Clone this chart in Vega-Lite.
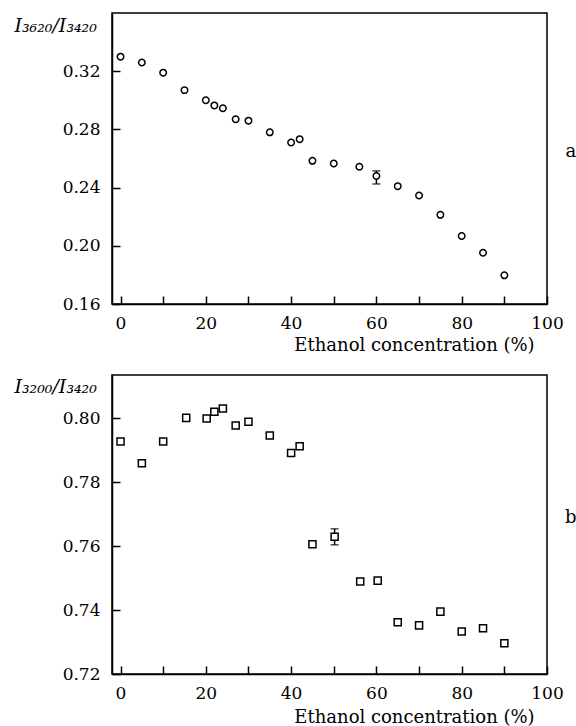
{
  "$schema": "https://vega.github.io/schema/vega-lite/v6.json",
  "autosize": {"type": "pad"},
  "padding": {"left": 13, "top": 12, "right": 0, "bottom": 0},
  "background": "white",
  "bounds": "flush",
  "spacing": 71,
  "config": {
    "font": "DejaVu Serif",
    "view": {"stroke": "black", "strokeWidth": 1.5},
    "axis": {
      "domainColor": "black", "domainWidth": 1.5,
      "tickColor": "black", "tickWidth": 1.5, "tickSize": -8,
      "labelColor": "black", "titleColor": "black",
      "labelFont": "DejaVu Serif",
      "titleFont": "DejaVu Serif",
      "labelFontSize": 17, "titleFontWeight": "normal", "grid": false
    },
    "text": {"font": "DejaVu Serif", "fontWeight": "normal"}
  },
  "vconcat": [
    {
      "width": 435,
      "height": 291,
      "data": {"values": [
        {"conc": 0, "ratio": 0.330},
        {"conc": 5, "ratio": 0.326},
        {"conc": 10, "ratio": 0.319},
        {"conc": 15, "ratio": 0.307},
        {"conc": 20, "ratio": 0.300},
        {"conc": 22, "ratio": 0.2965},
        {"conc": 24, "ratio": 0.2945},
        {"conc": 27, "ratio": 0.287},
        {"conc": 30, "ratio": 0.286},
        {"conc": 35, "ratio": 0.278},
        {"conc": 40, "ratio": 0.271},
        {"conc": 42, "ratio": 0.2733},
        {"conc": 45, "ratio": 0.2584},
        {"conc": 50, "ratio": 0.2566},
        {"conc": 56, "ratio": 0.2543},
        {"conc": 60, "ratio": 0.248, "lo": 0.2425, "hi": 0.2515},
        {"conc": 65, "ratio": 0.241},
        {"conc": 70, "ratio": 0.2346},
        {"conc": 75, "ratio": 0.2213},
        {"conc": 80, "ratio": 0.2067},
        {"conc": 85, "ratio": 0.1952},
        {"conc": 90, "ratio": 0.1797}
      ]},
      "encoding": {
        "x": {"field": "conc", "type": "quantitative",
              "scale": {"domain": [-2, 100], "nice": false, "zero": false},
              "axis": {"values": [0,10,20,30,40,50,60,70,80,90,100],
                       "labelExpr": "datum.value % 20 === 0 ? datum.label : ''",
                       "labelPadding": 19, "labelFlush": false,
                       "title": "Ethanol concentration (%)", "titleFontSize": 18,
                       "titleAnchor": "start", "titleAlign": "center", "titleX": 302, "titleY": 46,
                       "titleBaseline": "alphabetic"}},
        "y": {"field": "ratio", "type": "quantitative",
              "scale": {"domain": [0.16, 0.36], "nice": false, "zero": false},
              "axis": {"values": [0.16, 0.20, 0.24, 0.28, 0.32], "format": ".2f",
                       "labelPadding": 20, "labelFlush": false,
                       "title": "I₃₆₂₀/I₃₄₂₀", "titleFontSize": 19, "titleFontStyle": "italic",
                       "titleAngle": 0, "titleAlign": "left", "titleBaseline": "alphabetic",
                       "titleX": -98, "titleY": 18}}
      },
      "layer": [
        {"transform": [{"filter": "isValid(datum.lo)"}],
         "mark": {"type": "rule", "color": "black", "strokeWidth": 1.5},
         "encoding": {"y": {"field": "lo", "type": "quantitative"}, "y2": {"field": "hi"}}},
        {"transform": [{"filter": "isValid(datum.lo)"}],
         "mark": {"type": "tick", "orient": "horizontal", "color": "black", "size": 8, "thickness": 1.5},
         "encoding": {"y": {"field": "lo", "type": "quantitative"}}},
        {"transform": [{"filter": "isValid(datum.hi)"}],
         "mark": {"type": "tick", "orient": "horizontal", "color": "black", "size": 8, "thickness": 1.5},
         "encoding": {"y": {"field": "hi", "type": "quantitative"}}},
        {"mark": {"type": "point", "shape": "circle", "filled": true, "fill": "white", "stroke": "black", "strokeWidth": 1.5, "size": 42, "opacity": 1}},
        {"transform": [{"filter": "datum.conc == 0"}],
         "mark": {"type": "text", "fontSize": 18, "fontWeight": "normal", "align": "center", "baseline": "middle", "color": "black"},
         "encoding": {"x": {"datum": 105.6}, "y": {"datum": 0.2644}, "text": {"value": "a"}}}
      ]
    },
    {
      "width": 435,
      "height": 299,
      "data": {"values": [
        {"conc": 0, "ratio": 0.7927},
        {"conc": 5, "ratio": 0.7859},
        {"conc": 10, "ratio": 0.7927},
        {"conc": 15.4, "ratio": 0.8001},
        {"conc": 20.2, "ratio": 0.7999},
        {"conc": 22, "ratio": 0.8020},
        {"conc": 24, "ratio": 0.8030},
        {"conc": 27, "ratio": 0.7977},
        {"conc": 30, "ratio": 0.7989},
        {"conc": 35, "ratio": 0.7946},
        {"conc": 40, "ratio": 0.7891},
        {"conc": 42, "ratio": 0.7912},
        {"conc": 45, "ratio": 0.7606},
        {"conc": 50.2, "ratio": 0.7629, "lo": 0.7604, "hi": 0.7654},
        {"conc": 56.2, "ratio": 0.7489},
        {"conc": 60.3, "ratio": 0.7492},
        {"conc": 65, "ratio": 0.7362},
        {"conc": 70, "ratio": 0.7352},
        {"conc": 75, "ratio": 0.7395},
        {"conc": 80, "ratio": 0.7333},
        {"conc": 85, "ratio": 0.7343},
        {"conc": 90, "ratio": 0.7296}
      ]},
      "encoding": {
        "x": {"field": "conc", "type": "quantitative",
              "scale": {"domain": [-2, 100], "nice": false, "zero": false},
              "axis": {"values": [0,10,20,30,40,50,60,70,80,90,100],
                       "labelExpr": "datum.value % 20 === 0 ? datum.label : ''",
                       "labelPadding": 19, "labelFlush": false,
                       "title": "Ethanol concentration (%)", "titleFontSize": 18,
                       "titleAnchor": "start", "titleAlign": "center", "titleX": 302, "titleY": 48,
                       "titleBaseline": "alphabetic"}},
        "y": {"field": "ratio", "type": "quantitative",
              "scale": {"domain": [0.72, 0.8135], "nice": false, "zero": false},
              "axis": {"values": [0.72, 0.74, 0.76, 0.78, 0.80], "format": ".2f",
                       "labelPadding": 20, "labelFlush": false,
                       "title": "I₃₂₀₀/I₃₄₂₀", "titleFontSize": 19, "titleFontStyle": "italic",
                       "titleAngle": 0, "titleAlign": "left", "titleBaseline": "alphabetic",
                       "titleX": -98, "titleY": 17}}
      },
      "layer": [
        {"transform": [{"filter": "isValid(datum.lo)"}],
         "mark": {"type": "rule", "color": "black", "strokeWidth": 1.5},
         "encoding": {"y": {"field": "lo", "type": "quantitative"}, "y2": {"field": "hi"}}},
        {"transform": [{"filter": "isValid(datum.lo)"}],
         "mark": {"type": "tick", "orient": "horizontal", "color": "black", "size": 8, "thickness": 1.5},
         "encoding": {"y": {"field": "lo", "type": "quantitative"}}},
        {"transform": [{"filter": "isValid(datum.hi)"}],
         "mark": {"type": "tick", "orient": "horizontal", "color": "black", "size": 8, "thickness": 1.5},
         "encoding": {"y": {"field": "hi", "type": "quantitative"}}},
        {"mark": {"type": "point", "shape": "square", "filled": true, "fill": "white", "stroke": "black", "strokeWidth": 1.5, "size": 50, "opacity": 1}},
        {"transform": [{"filter": "datum.conc == 0"}],
         "mark": {"type": "text", "fontSize": 18, "fontWeight": "normal", "align": "center", "baseline": "middle", "color": "black"},
         "encoding": {"x": {"datum": 105.6}, "y": {"datum": 0.7689}, "text": {"value": "b"}}}
      ]
    }
  ]
}
